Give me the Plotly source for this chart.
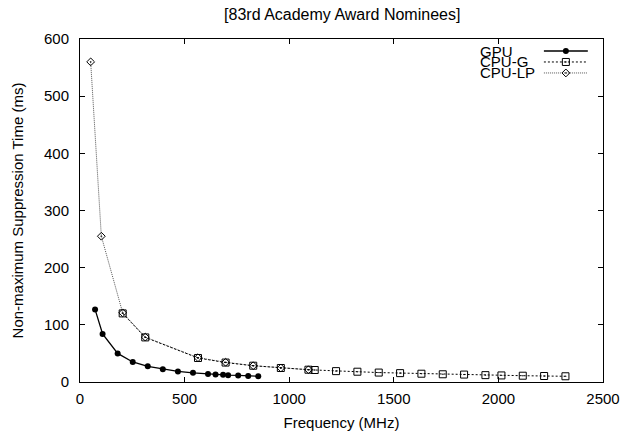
import plotly.graph_objects as go

# ---- data ----
gpu_freq = [72, 108, 180, 252, 324, 396, 468, 540, 612, 648, 684, 708, 756, 804, 852]
gpu_time = [127, 84, 50, 35, 27.5, 22.5, 18.5, 16, 14, 13, 12.5, 12, 11.5, 10.5, 10]

cpug_freq = [204, 312, 564, 696, 828, 960, 1092, 1122, 1224, 1326, 1428, 1530,
             1632, 1734, 1836, 1938, 2014.5, 2116.5, 2218.5, 2320.5]
cpug_time = [120, 78, 42, 34, 28.5, 24.5, 21.5, 21, 19, 18, 16.5, 15.5,
             14.5, 13.5, 13, 12, 11.5, 11, 10.5, 10]

cpulp_freq = [51, 102, 204, 312, 564, 696, 828, 960, 1092]
cpulp_time = [560, 255, 121, 78.5, 42.5, 34.5, 28.5, 24.5, 21.5]

series_names = ["GPU", "CPU-G", "CPU-LP"]
x_ticks = [0, 500, 1000, 1500, 2000, 2500]
y_ticks = [0, 100, 200, 300, 400, 500, 600]

FONT = "Liberation Sans, Arial, sans-serif"

styles = {
    "GPU": dict(line=dict(color="black", width=1.3, dash="solid"),
                marker=dict(symbol="circle", size=6, color="black")),
    "CPU-G": dict(line=dict(color="black", width=1, dash="2px,2px"),
                  marker=dict(symbol="square-open-dot", size=7, color="black",
                              line=dict(width=1, color="black"))),
    "CPU-LP": dict(line=dict(color="#555555", width=1, dash="1px,1px"),
                   marker=dict(symbol="diamond-open-dot", size=6, color="black",
                               line=dict(width=1, color="black"))),
}

fig = go.Figure()
data = {"GPU": (gpu_freq, gpu_time), "CPU-G": (cpug_freq, cpug_time),
        "CPU-LP": (cpulp_freq, cpulp_time)}
for name in ["CPU-LP", "CPU-G", "GPU"]:
    xs, ys = data[name]
    fig.add_trace(go.Scatter(x=xs, y=ys, mode="lines+markers", name=name,
                             showlegend=False, cliponaxis=False, **styles[name]))

# custom gnuplot-style key (text left, sample on right)
key_y = [0.965, 0.933, 0.901]
for name, ky in zip(series_names, key_y):
    fig.add_trace(go.Scatter(x=[0.887, 0.971], y=[ky, ky], mode="lines",
                             xaxis="x2", yaxis="y2", showlegend=False,
                             line=styles[name]["line"], hoverinfo="skip"))
    fig.add_trace(go.Scatter(x=[0.929], y=[ky], mode="markers",
                             xaxis="x2", yaxis="y2", showlegend=False,
                             marker=styles[name]["marker"], hoverinfo="skip"))
    fig.add_annotation(x=0.763, y=ky, xref="x2", yref="y2", text=name,
                       showarrow=False, xanchor="left", yanchor="middle",
                       borderpad=0,
                       font=dict(family=FONT, size=15, color="black"))

fig.update_layout(
    width=628, height=434,
    margin=dict(l=80, r=25, t=39, b=52),
    paper_bgcolor="white", plot_bgcolor="white",
    title=dict(text="[83rd Academy Award Nominees]", x=0.545, xanchor="center",
               y=0.966, yanchor="middle",
               font=dict(family=FONT, size=16, color="black")),
    font=dict(family=FONT, size=15, color="black"),
    xaxis=dict(range=[0, 2500], tickvals=x_ticks, showgrid=False, zeroline=False,
               showline=True, linecolor="black", linewidth=1, mirror="allticks",
               ticks="inside", ticklen=5, tickcolor="black",
               ticklabelstandoff=3, automargin=False,
               tickfont=dict(family=FONT, size=15),
               title=dict(text="Frequency (MHz)", standoff=11,
                          font=dict(family=FONT, size=15))),
    yaxis=dict(range=[0, 600], tickvals=y_ticks, showgrid=False, zeroline=False,
               showline=True, linecolor="black", linewidth=1, mirror="allticks",
               ticks="inside", ticklen=5, tickcolor="black",
               ticklabelstandoff=7, automargin=False,
               tickfont=dict(family=FONT, size=15),
               title=dict(text="Non-maximum Suppression Time (ms)", standoff=16,
                          font=dict(family=FONT, size=15))),
    xaxis2=dict(range=[0, 1], overlaying="x", visible=False, fixedrange=True),
    yaxis2=dict(range=[0, 1], overlaying="y", visible=False, fixedrange=True),
)

fig.write_html("out.html", config={"displayModeBar": False},
               post_script="document.body.style.margin='0px';"
                           "document.body.style.overflow='hidden';")
